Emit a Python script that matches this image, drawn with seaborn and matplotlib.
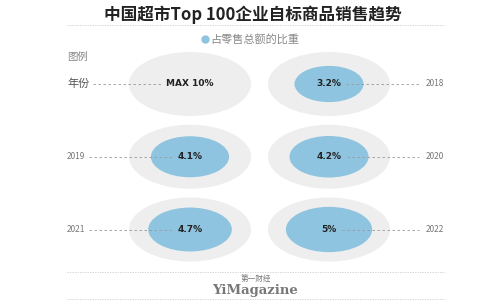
import matplotlib
matplotlib.use("Agg")
import matplotlib.pyplot as plt
import seaborn as sns
import pandas as pd
import numpy as np
from matplotlib.path import Path
from matplotlib.transforms import Affine2D
from matplotlib.lines import Line2D

# ---- data ----
labels = ["年份", "2018", "2019", "2020", "2021", "2022"]
values = [10, 3.2, 4.1, 4.2, 4.7, 5.0]
value_texts = ["MAX 10%", "3.2%", "4.1%", "4.2%", "4.7%", "5%"]
max_value = 10
title = "中国超市Top 100企业自标商品销售趋势"
legend_label = "占零售总额的比重"
legend_heading = "图例"
brand_cn = "第一财经"
brand_en = "YiMagazine"

sns.set_theme(style="white")
plt.rcParams["font.family"] = ["Noto Sans CJK SC", "DejaVu Sans"]

BLUE = "#8ec4df"
GREY = "#eeeeee"

fig = plt.figure(figsize=(5, 3), dpi=100)
ax = fig.add_axes([0, 0, 1, 1])

# layout (grid of 2 columns x 3 rows)
idx = np.arange(len(labels))
col = idx % 2
row = idx // 2
cx = 190 + 139 * col
cy = 84 + 72.75 * row

df = pd.DataFrame({"label": labels, "value": values, "text": value_texts,
                   "x": cx, "y": cy, "col": col})

ellipse = Path(Affine2D().scale(1, 0.525).transform(Path.unit_circle().vertices),
               Path.unit_circle().codes)
full_s = (122 * 0.72) ** 2

# grey background ellipses (max)
sns.scatterplot(data=df, x="x", y="y", s=full_s, marker=ellipse, color=GREY,
                edgecolor="none", linewidth=0, legend=False, ax=ax, zorder=1)
# blue value ellipses (area proportional), exclude legend sample
dv = df.iloc[1:]
sns.scatterplot(data=dv, x="x", y="y", size="value", sizes=(0, full_s),
                size_norm=(0, max_value), marker=ellipse, color=BLUE,
                edgecolor="none", linewidth=0, legend=False, ax=ax, zorder=2)
ax.set_xlim(0, 500)
ax.set_ylim(300, 0)
ax.axis("off")

# texts
fig.text(0.506, 1 - 15 / 300, title, ha="center", va="center",
         fontsize=12, fontweight="bold", color="#222222")
ax.plot([67, 445], [25, 25], ls=(0, (1.5, 1.5)), color="#cccccc", lw=0.6)

leg = ax.legend(handles=[Line2D([], [], marker="o", ls="none", color=BLUE,
                                markersize=5, label=legend_label)],
                loc="center", bbox_to_anchor=(0.5, 1 - 39 / 300), frameon=False,
                fontsize=8, handletextpad=0.1, borderpad=0, handlelength=0.8)
for t in leg.get_texts():
    t.set_color("#888888")

ax.text(67, 57, legend_heading, ha="left", va="center", fontsize=7.5, color="#888888")

fig.canvas.draw()
renderer = fig.canvas.get_renderer()
inv = ax.transData.inverted()

for i, r in df.iterrows():
    vt = ax.text(r["x"], r["y"], r["text"], ha="center", va="center",
                 fontsize=6.5, fontweight="bold", color="#222222", zorder=4,
                 family="DejaVu Sans")
    if r["col"] == 0:
        lt = ax.text(67, r["y"], r["label"], ha="left", va="center",
                     fontsize=8 if i == 0 else 6, color="#555555" if i == 0 else "#777777")
    else:
        lt = ax.text(444, r["y"], r["label"], ha="right", va="center",
                     fontsize=6, color="#777777")
    fig.canvas.draw()
    vb = vt.get_window_extent(renderer)
    lb = lt.get_window_extent(renderer)
    vx0 = inv.transform((vb.x0, vb.y0))[0]
    vx1 = inv.transform((vb.x1, vb.y0))[0]
    lx0 = inv.transform((lb.x0, lb.y0))[0]
    lx1 = inv.transform((lb.x1, lb.y0))[0]
    if r["col"] == 0:
        xs = [lx1 + 4, vx0 - 5]
    else:
        xs = [vx1 + 5, lx0 - 7]
    ax.plot(xs, [r["y"], r["y"]], ls=(0, (3, 3)), color="#999999", lw=0.6, zorder=3)

# footer
ax.plot([67, 445], [272, 272], ls=(0, (1.5, 1.5)), color="#cccccc", lw=0.6)
ax.text(256, 278.5, brand_cn, ha="center", va="center", fontsize=5.5, color="#777777")
ax.text(255, 290.5, brand_en, ha="center", va="center", fontsize=9.5,
        fontweight="bold", color="#777777", family="DejaVu Serif")
ax.plot([67, 445], [299, 299], ls=(0, (1.5, 1.5)), color="#cccccc", lw=0.6)

fig.savefig("out.png", dpi=100)
